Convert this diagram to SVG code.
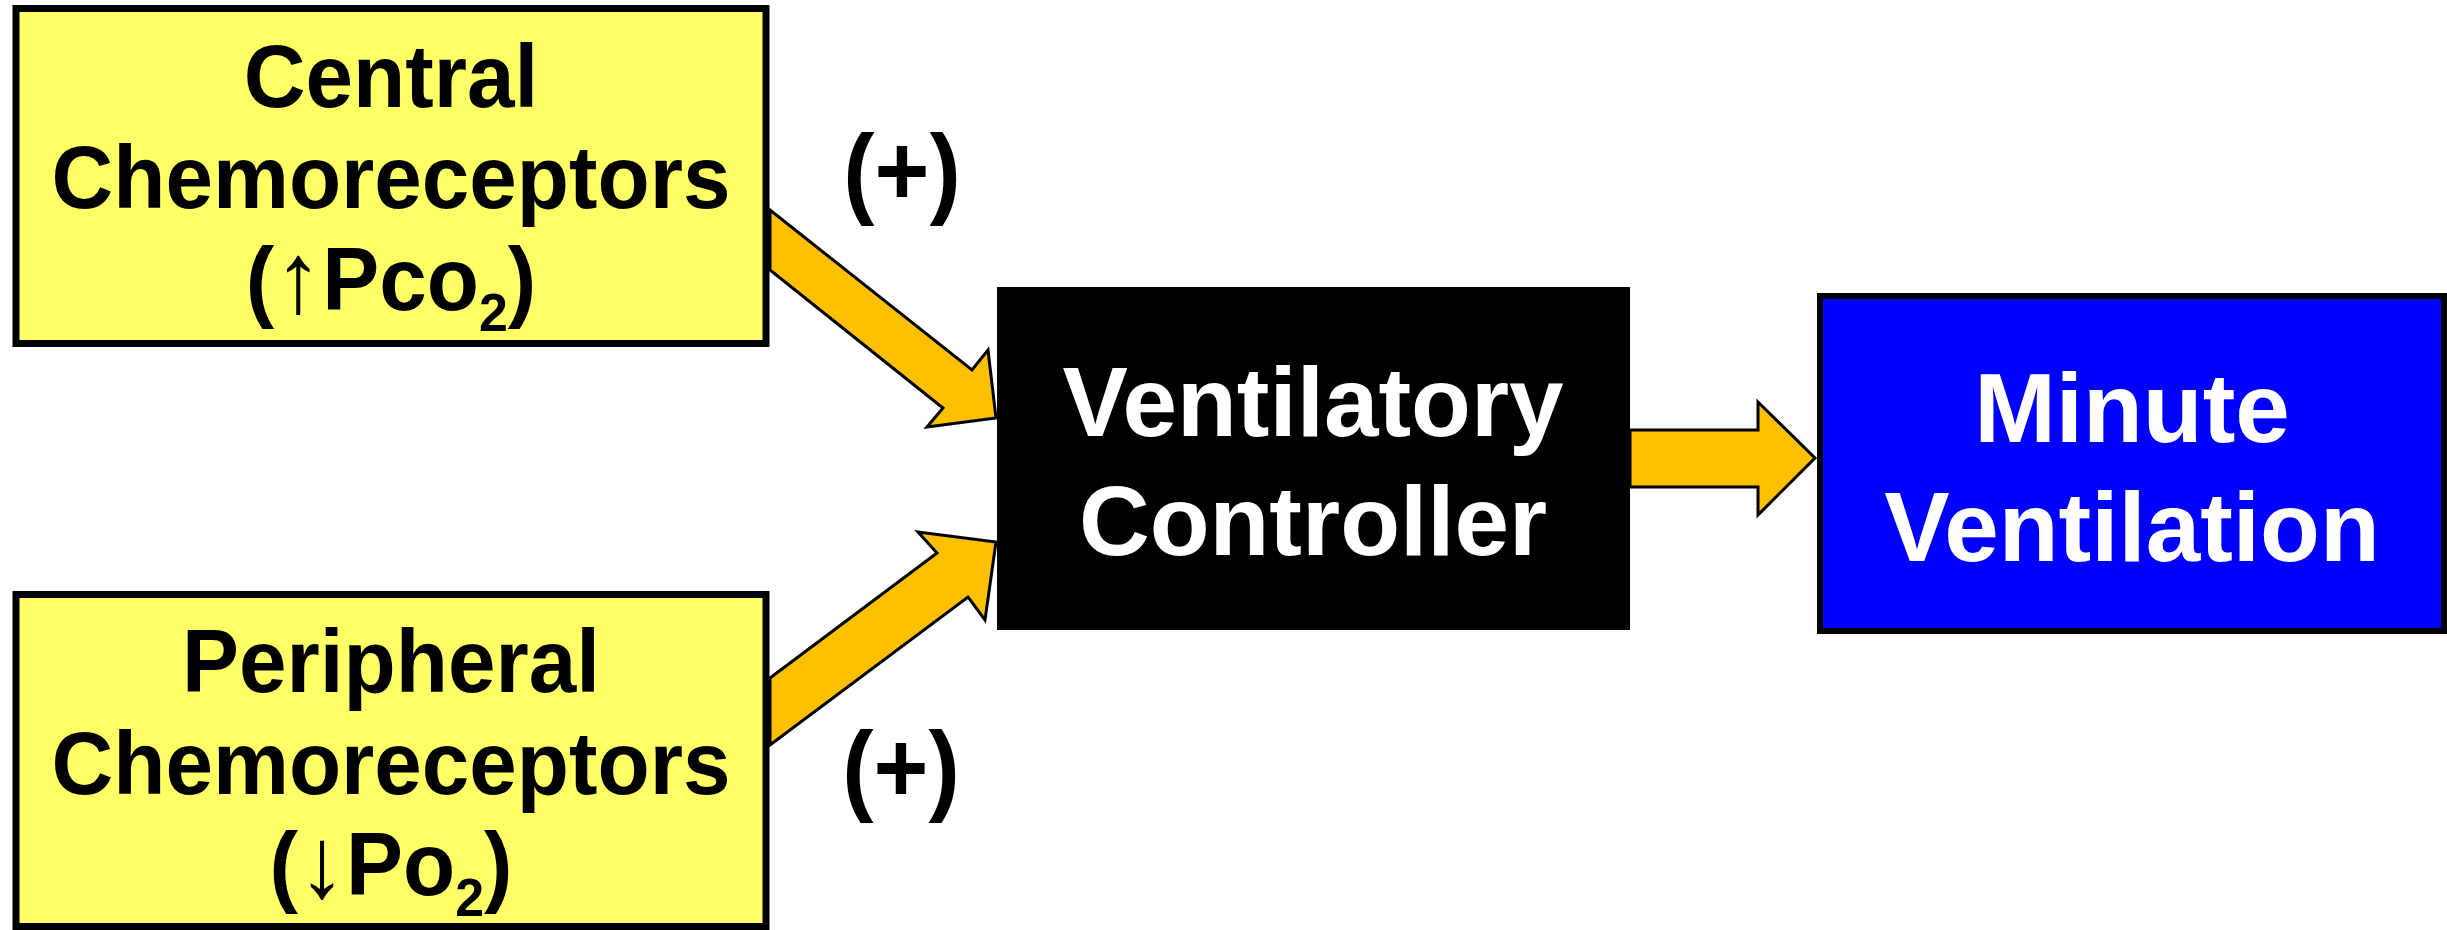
<svg xmlns="http://www.w3.org/2000/svg" width="2447" height="930" viewBox="0 0 2447 930">
<style>
.ybox{fill:#FFFF66;stroke:#000;stroke-width:7}
.yt{font-family:"Liberation Sans",Arial,sans-serif;font-weight:bold;font-size:89px;fill:#000;text-anchor:middle}
.wt{font-family:"Liberation Sans",Arial,sans-serif;font-weight:bold;font-size:98px;fill:#fff;text-anchor:middle}
.pl{font-family:"Liberation Sans",Arial,sans-serif;font-weight:bold;font-size:100px;fill:#000;text-anchor:middle}
.arr{fill:#FFC000;stroke:#000;stroke-width:3;stroke-linejoin:miter}
.sym{font-weight:normal;font-size:100px}
.sub{font-size:54px}
</style>
<rect width="2447" height="930" fill="#fff"/>
<g id="central">
<rect class="ybox" x="16" y="8.5" width="750" height="335"/>
<g transform="translate(391 0) scale(0.96 1)">
<text class="yt" x="0" y="107">Central</text>
<text class="yt" x="0" y="208">Chemoreceptors</text>
<text class="yt" x="0" y="310">(<tspan class="sym" dy="2">↑</tspan><tspan dy="-2">Pco</tspan><tspan class="sub" dy="21">2</tspan><tspan dy="-21">)</tspan></text>
</g>
</g>
<g id="peripheral">
<rect class="ybox" x="16" y="594.5" width="750" height="332"/>
<g transform="translate(391 0) scale(0.96 1)">
<text class="yt" x="0" y="692">Peripheral</text>
<text class="yt" x="0" y="794">Chemoreceptors</text>
<text class="yt" x="0" y="895">(<tspan class="sym" dy="2">↓</tspan><tspan dy="-2">Po</tspan><tspan class="sub" dy="21">2</tspan><tspan dy="-21">)</tspan></text>
</g>
</g>
<g id="controller">
<rect x="997" y="287" width="633" height="343" fill="#000"/>
<text class="wt" x="1313" y="436">Ventilatory</text>
<text class="wt" x="1313" y="555">Controller</text>
</g>
<g id="ventilation">
<rect x="1820" y="296" width="624" height="335" fill="#0000FF" stroke="#000" stroke-width="6"/>
<text class="wt" x="2132" y="442">Minute</text>
<text class="wt" x="2132" y="561">Ventilation</text>
</g>
<g id="connectors">
<polygon class="arr" points="770,210 972,370 988,350 996,418 927,427 943,408 770,270"/>
<polygon class="arr" points="770,678 937,553 918,532 996,542 985,620 968,597 770,745"/>
<polygon class="arr" points="1630,430 1758,430 1758,402 1815,458 1758,515 1758,487 1630,487"/>
<g transform="translate(902 0) scale(0.94 1)"><text class="pl" x="0" y="205">(+)</text></g>
<g transform="translate(901 0) scale(0.94 1)"><text class="pl" x="0" y="802">(+)</text></g>
</g>
</svg>
